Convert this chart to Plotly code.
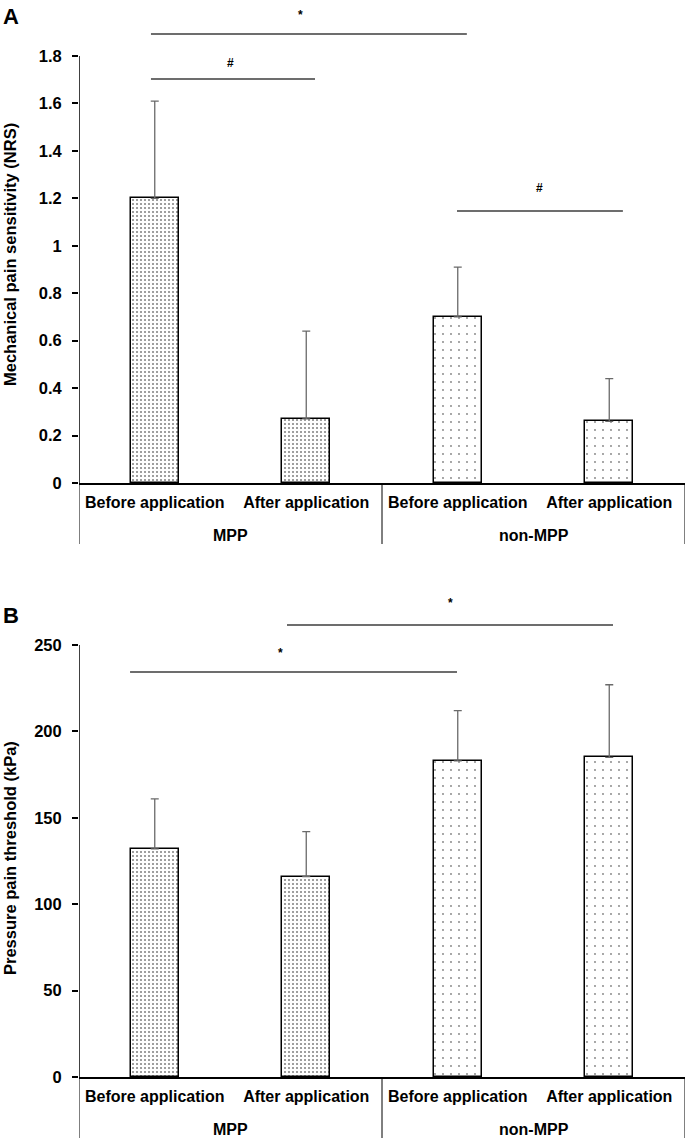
import plotly.graph_objects as go

# ---------------- data ----------------
groups = ["MPP", "MPP", "non-MPP", "non-MPP"]
conditions = ["Before application", "After application", "Before application", "After application"]
group_names = ["MPP", "non-MPP"]

nrs_mean = [1.20, 0.27, 0.70, 0.26]
nrs_upper = [1.61, 0.64, 0.91, 0.44]
nrs_ticks = [0, 0.2, 0.4, 0.6, 0.8, 1.0, 1.2, 1.4, 1.6, 1.8]

ppt_mean = [132, 116, 183, 185]
ppt_upper = [161, 142, 212, 227]
ppt_ticks = [0, 50, 100, 150, 200, 250]

# significance brackets: (x_start, x_end, level, symbol, label_x, label_level)
nrs_brackets = [(-0.025, 2.06, 1.893, "*", 0.96, 1.975),
                (-0.025, 1.058, 1.703, "#", 0.50, 1.771),
                (1.995, 3.09, 1.147, "#", 2.54, 1.244)]
ppt_brackets = [(-0.163, 1.995, 234.4, "*", 0.83, 245.4),
                (0.873, 3.025, 261.6, "*", 1.95, 274.3)]

# ---------------- layout geometry ----------------
W, H = 685, 1138
FONT = "Liberation Sans, Arial, sans-serif"
x_idx = list(range(len(conditions)))


def py(px):  # pixel row -> paper y
    return 1 - px / H


def pxx(px):  # pixel column -> paper x
    return px / W


panels = [
    dict(mean=nrs_mean, upper=nrs_upper, ticks=nrs_ticks, brackets=nrs_brackets,
         base_px=483, top_px=2, scale=237.2, title="Mechanical pain sensitivity (NRS)",
         title_px=255, letter="A", letter_px=17, ax=""),
    dict(mean=ppt_mean, upper=ppt_upper, ticks=ppt_ticks, brackets=ppt_brackets,
         base_px=1077, top_px=590, scale=1.728, title="Pressure pain threshold (kPa)",
         title_px=858, letter="B", letter_px=615, ax="2"),
]

fig = go.Figure()
shapes = []
annotations = []

for p in panels:
    xa = "x" + p["ax"]
    ya = "y" + p["ax"]
    ymax = (p["base_px"] - p["top_px"]) / p["scale"]
    for i in x_idx:
        dense = groups[i] == "MPP"
        fig.add_trace(go.Bar(
            x=[i], y=[p["mean"][i]], width=0.32,
            xaxis=xa, yaxis=ya, showlegend=False,
            marker=dict(color="white",
                        line=dict(color="black", width=1.5),
                        pattern=dict(shape=".", fgcolor="black", bgcolor="white",
                                     size=4 if dense else 8,
                                     solidity=0.2 if dense else 0.04,
                                     fillmode="overlay")),
            error_y=dict(type="data", symmetric=False,
                         array=[p["upper"][i] - p["mean"][i]], arrayminus=[0],
                         color="#6a6a6a", thickness=1.3, width=4),
        ))
    # y axis line
    shapes.append(dict(type="line", xref=xa, yref=ya, x0=-0.5, x1=-0.5,
                       y0=0, y1=max(p["ticks"]), line=dict(color="black", width=1.5)))
    # brackets
    for (x0, x1, lv, sym, lx, ll) in p["brackets"]:
        shapes.append(dict(type="line", xref=xa, yref=ya, x0=x0, x1=x1, y0=lv, y1=lv,
                           line=dict(color="#3c3c3c", width=1.5)))
        annotations.append(dict(xref=xa, yref=ya, x=lx, y=ll, text=sym, showarrow=False,
                                font=dict(family=FONT, size=12, color="black", weight="bold")))
    # dividers below axis
    for xd in [-0.5, 1.5, 3.5]:
        shapes.append(dict(type="line", xref=xa, yref="paper", x0=xd, x1=xd,
                           y0=py(p["base_px"]), y1=max(py(p["base_px"] + 61), 0),
                           line=dict(color="black", width=1)))
    # group labels
    for gi, g in enumerate(group_names):
        annotations.append(dict(xref=xa, yref="paper", x=0.5 + 2 * gi, y=py(p["base_px"] + 52),
                                text=g, showarrow=False, yanchor="middle",
                                font=dict(family=FONT, size=16, color="black", weight="bold")))
    # y title
    annotations.append(dict(xref="paper", yref="paper", x=pxx(10), y=py(p["title_px"]),
                            text=p["title"], textangle=-90, showarrow=False,
                            xanchor="center", yanchor="middle",
                            font=dict(family=FONT, size=16.5, color="black", weight="bold")))
    # panel letter
    annotations.append(dict(xref="paper", yref="paper", x=pxx(11), y=py(p["letter_px"]),
                            text=p["letter"], showarrow=False, xanchor="center", yanchor="middle",
                            font=dict(family=FONT, size=22, color="black", weight="bold")))

    axis_x = dict(domain=[pxx(79), 1], range=[-0.5, 3.5], anchor=ya,
                  tickmode="array", tickvals=x_idx, ticktext=conditions, ticks="",
                  showline=True, linecolor="black", linewidth=1.5, showgrid=False,
                  zeroline=False, automargin=False, ticklabelstandoff=4,
                  tickfont=dict(family=FONT, size=16, color="black", weight="bold"))
    axis_y = dict(domain=[py(p["base_px"]), py(p["top_px"])], range=[0, ymax], anchor=xa,
                  tickmode="array", tickvals=p["ticks"], ticks="outside", ticklen=6,
                  tickwidth=1.5, tickcolor="black", showline=False, showgrid=False,
                  zeroline=False, automargin=False, ticklabelstandoff=7,
                  tickfont=dict(family=FONT, size=16.5, color="black", weight="bold"))
    fig.update_layout({"xaxis" + p["ax"]: axis_x, "yaxis" + p["ax"]: axis_y})

fig.update_layout(width=W, height=H, margin=dict(l=0, r=0, t=0, b=0),
                  paper_bgcolor="white", plot_bgcolor="white",
                  shapes=shapes, annotations=annotations, bargap=0)

# remove the default page margin so the figure sits at the window's top-left corner
fig.write_html("out.html",
               config={"displayModeBar": False},
               post_script="document.body.style.margin='0';document.body.style.overflow='hidden';")
